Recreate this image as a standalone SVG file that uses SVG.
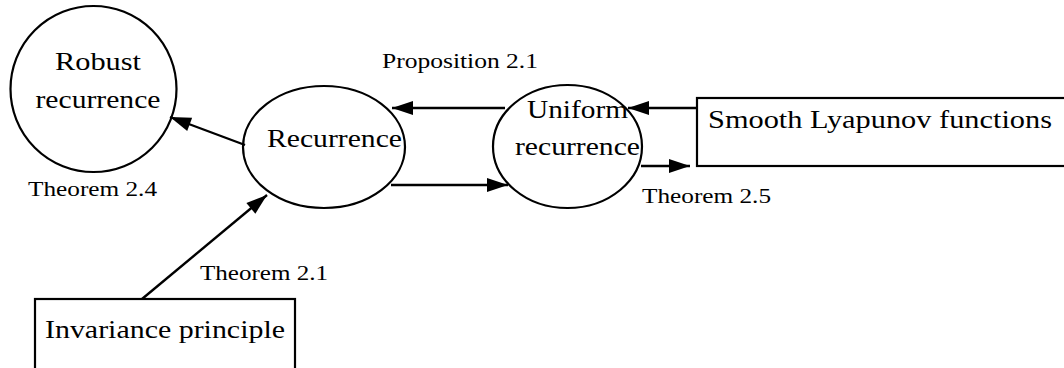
<svg xmlns="http://www.w3.org/2000/svg" width="1064" height="368" viewBox="0 0 1064 368">
<style>
.n{fill:#fff;stroke:#000;stroke-width:2.2}
.t{font-family:'Liberation Serif','DejaVu Serif','Noto Serif',serif;font-size:26px;fill:#000}
.l{font-family:'Liberation Serif','DejaVu Serif','Noto Serif',serif;font-size:20px;fill:#000}
.e{stroke:#000;stroke-width:2.4;fill:none;marker-end:url(#a)}
</style>
<defs>
<marker id="a" markerUnits="userSpaceOnUse" markerWidth="24" markerHeight="16" refX="21" refY="7" orient="auto" overflow="visible">
<path d="M0,0 L21,7 L0,14 z" fill="#000"/>
</marker>
</defs>
<rect width="1064" height="368" fill="#fff"/>
<g id="robust">
<circle class="n" cx="93.5" cy="89" r="83"/>
<text class="t" x="98" y="70" text-anchor="middle" textLength="86" lengthAdjust="spacingAndGlyphs">Robust</text>
<text class="t" x="98" y="108" text-anchor="middle" textLength="125" lengthAdjust="spacingAndGlyphs">recurrence</text>
</g>
<g id="recurrence">
<ellipse class="n" cx="324" cy="147" rx="81" ry="61"/>
<text class="t" x="334.5" y="147" text-anchor="middle" textLength="135" lengthAdjust="spacingAndGlyphs">Recurrence</text>
</g>
<g id="uniform">
<ellipse class="n" cx="567.5" cy="146.5" rx="74.5" ry="61.5"/>
<text class="t" x="577.5" y="118" text-anchor="middle" textLength="101" lengthAdjust="spacingAndGlyphs">Uniform</text>
<text class="t" x="577.5" y="155" text-anchor="middle" textLength="125" lengthAdjust="spacingAndGlyphs">recurrence</text>
</g>
<g id="smooth">
<rect class="n" x="697" y="98" width="400" height="68"/>
<text class="t" x="708" y="128" textLength="344" lengthAdjust="spacingAndGlyphs">Smooth Lyapunov functions</text>
</g>
<g id="invariance">
<rect class="n" x="35" y="299" width="260" height="100"/>
<text class="t" x="45" y="338" textLength="240" lengthAdjust="spacingAndGlyphs">Invariance principle</text>
</g>
<g id="connectors">
<line class="e" x1="245" y1="145" x2="170" y2="117"/>
<line class="e" x1="505" y1="108" x2="392" y2="108"/>
<line class="e" x1="391" y1="185" x2="508" y2="185"/>
<line class="e" x1="697" y1="108" x2="628" y2="108"/>
<line class="e" x1="641" y1="166" x2="690" y2="166"/>
<line class="e" x1="142" y1="299" x2="267" y2="195"/>
</g>
<g id="labels">
<text class="l" x="28" y="196" textLength="129" lengthAdjust="spacingAndGlyphs">Theorem 2.4</text>
<text class="l" x="382" y="68" textLength="156" lengthAdjust="spacingAndGlyphs">Proposition 2.1</text>
<text class="l" x="642" y="203" textLength="129" lengthAdjust="spacingAndGlyphs">Theorem 2.5</text>
<text class="l" x="200" y="280" textLength="128" lengthAdjust="spacingAndGlyphs">Theorem 2.1</text>
</g>
</svg>
